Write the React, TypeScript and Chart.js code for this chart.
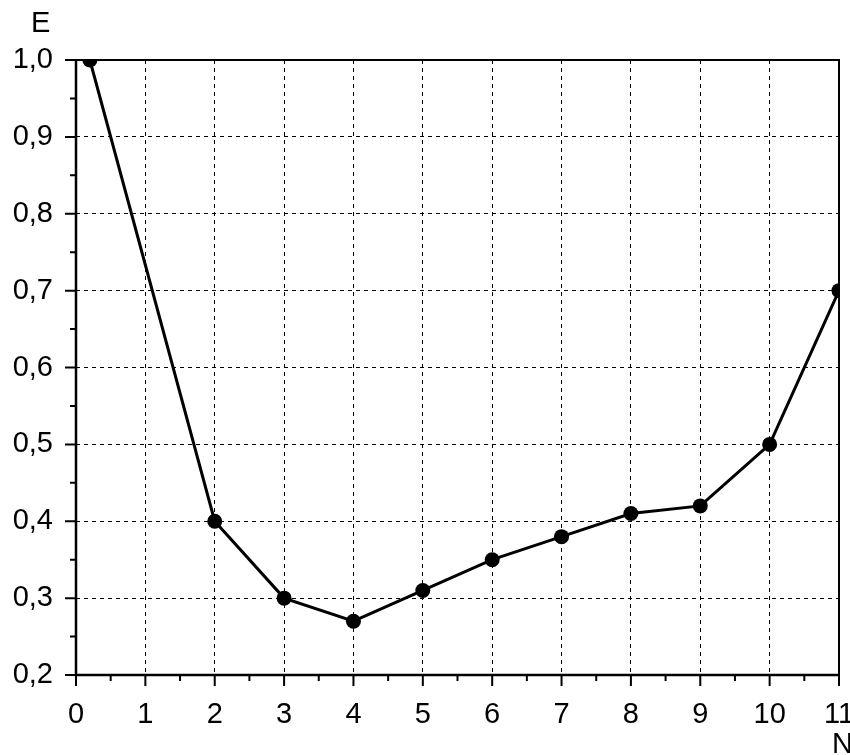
import React, { useEffect, useRef } from "react";
import { Chart, registerables } from "chart.js";

Chart.register(...registerables);

const nValues = [0.2, 2, 3, 4, 5, 6, 7, 8, 9, 10, 11];
const eValues = [1.0, 0.4, 0.3, 0.27, 0.31, 0.35, 0.38, 0.41, 0.42, 0.5, 0.7];
const xMajorTicks = [0, 1, 2, 3, 4, 5, 6, 7, 8, 9, 10, 11];
const yMajorTicks = [0.2, 0.3, 0.4, 0.5, 0.6, 0.7, 0.8, 0.9, 1.0];
const xTitle = "N";
const yTitle = "E";

const FONT = "'Liberation Sans', Arial, sans-serif";

const framePlugin = {
  id: "frameTicks",
  afterDraw(chart: any) {
    const { ctx, chartArea: a, scales } = chart;
    const xs = scales.x;
    const ys = scales.y;
    ctx.save();
    ctx.strokeStyle = "#000";
    ctx.lineCap = "butt";
    ctx.lineWidth = 2;
    ctx.beginPath();
    ctx.moveTo(a.left, a.top);
    ctx.lineTo(a.right, a.top);
    ctx.lineTo(a.right, a.bottom);
    ctx.stroke();
    ctx.lineWidth = 2.5;
    ctx.beginPath();
    ctx.moveTo(a.left, a.top - 1);
    ctx.lineTo(a.left, a.bottom);
    ctx.lineTo(a.right + 1, a.bottom);
    ctx.stroke();
    ctx.lineWidth = 2;
    ctx.beginPath();
    xMajorTicks.forEach((v, i) => {
      const px = xs.getPixelForValue(v);
      ctx.moveTo(px, a.bottom);
      ctx.lineTo(px, a.bottom + 11);
      if (i < xMajorTicks.length - 1) {
        const mx = xs.getPixelForValue(v + 0.5);
        ctx.moveTo(mx, a.bottom);
        ctx.lineTo(mx, a.bottom + 6);
      }
    });
    yMajorTicks.forEach((v, i) => {
      const py = ys.getPixelForValue(v);
      ctx.moveTo(a.left, py);
      ctx.lineTo(a.left - 11, py);
      if (i < yMajorTicks.length - 1) {
        const my = ys.getPixelForValue(v + 0.05);
        ctx.moveTo(a.left, my);
        ctx.lineTo(a.left - 6, my);
      }
    });
    ctx.stroke();
    ctx.fillStyle = "#000";
    ctx.font = `29px ${FONT}`;
    ctx.textAlign = "left";
    ctx.textBaseline = "alphabetic";
    ctx.fillText(yTitle, 31, 32);
    ctx.fillText(xTitle, 832, 753);
    ctx.restore();
  },
};

export default function App() {
  const ref = useRef<HTMLCanvasElement | null>(null);
  useEffect(() => {
    if (!ref.current) return;
    const chart = new Chart(ref.current, {
      type: "line",
      data: {
        datasets: [
          {
            data: nValues.map((n, i) => ({ x: n, y: eValues[i] })),
            borderColor: "#000",
            backgroundColor: "#000",
            borderWidth: 3,
            pointRadius: 7.5,
            pointBackgroundColor: "#000",
            pointBorderColor: "#000",
            pointBorderWidth: 0,
            tension: 0,
            clip: 0,
          } as any,
        ],
      },
      options: {
        animation: false,
        responsive: false,
        maintainAspectRatio: false,
        layout: { padding: { top: 60, right: 11, left: 0, bottom: 0 } },
        plugins: { legend: { display: false }, tooltip: { enabled: false } },
        scales: {
          x: {
            type: "linear",
            min: 0,
            max: 11,
            afterBuildTicks: (s: any) => {
              s.ticks = xMajorTicks.map((v) => ({ value: v }));
            },
            afterFit: (s: any) => {
              s.height = 80;
              s.paddingLeft = 0;
              s.paddingRight = 0;
            },
            grid: { drawTicks: false, color: "#000", lineWidth: 1 },
            border: { display: false, dash: [4, 4] },
            ticks: {
              color: "#000",
              font: { family: FONT, size: 29 },
              padding: 23,
              maxRotation: 0,
              autoSkip: false,
              callback: (v: any) => String(v),
            },
          },
          y: {
            type: "linear",
            min: 0.2,
            max: 1.0,
            afterBuildTicks: (s: any) => {
              s.ticks = yMajorTicks.map((v) => ({ value: v }));
            },
            afterFit: (s: any) => {
              s.width = 76;
              s.paddingTop = 0;
              s.paddingBottom = 0;
            },
            grid: { drawTicks: false, color: "#000", lineWidth: 1 },
            border: { display: false, dash: [4, 4] },
            ticks: {
              color: "#000",
              font: { family: FONT, size: 29 },
              padding: 23,
              autoSkip: false,
              callback: (v: any) => Number(v).toFixed(1).replace(".", ","),
            },
          },
        },
      },
      plugins: [framePlugin],
    });
    return () => chart.destroy();
  }, []);
  return (
    <div style={{ position: "fixed", left: 0, top: 0, width: 850, height: 755, background: "#fff" }}>
      <canvas ref={ref} width={850} height={755} style={{ width: 850, height: 755, display: "block" }} />
    </div>
  );
}
